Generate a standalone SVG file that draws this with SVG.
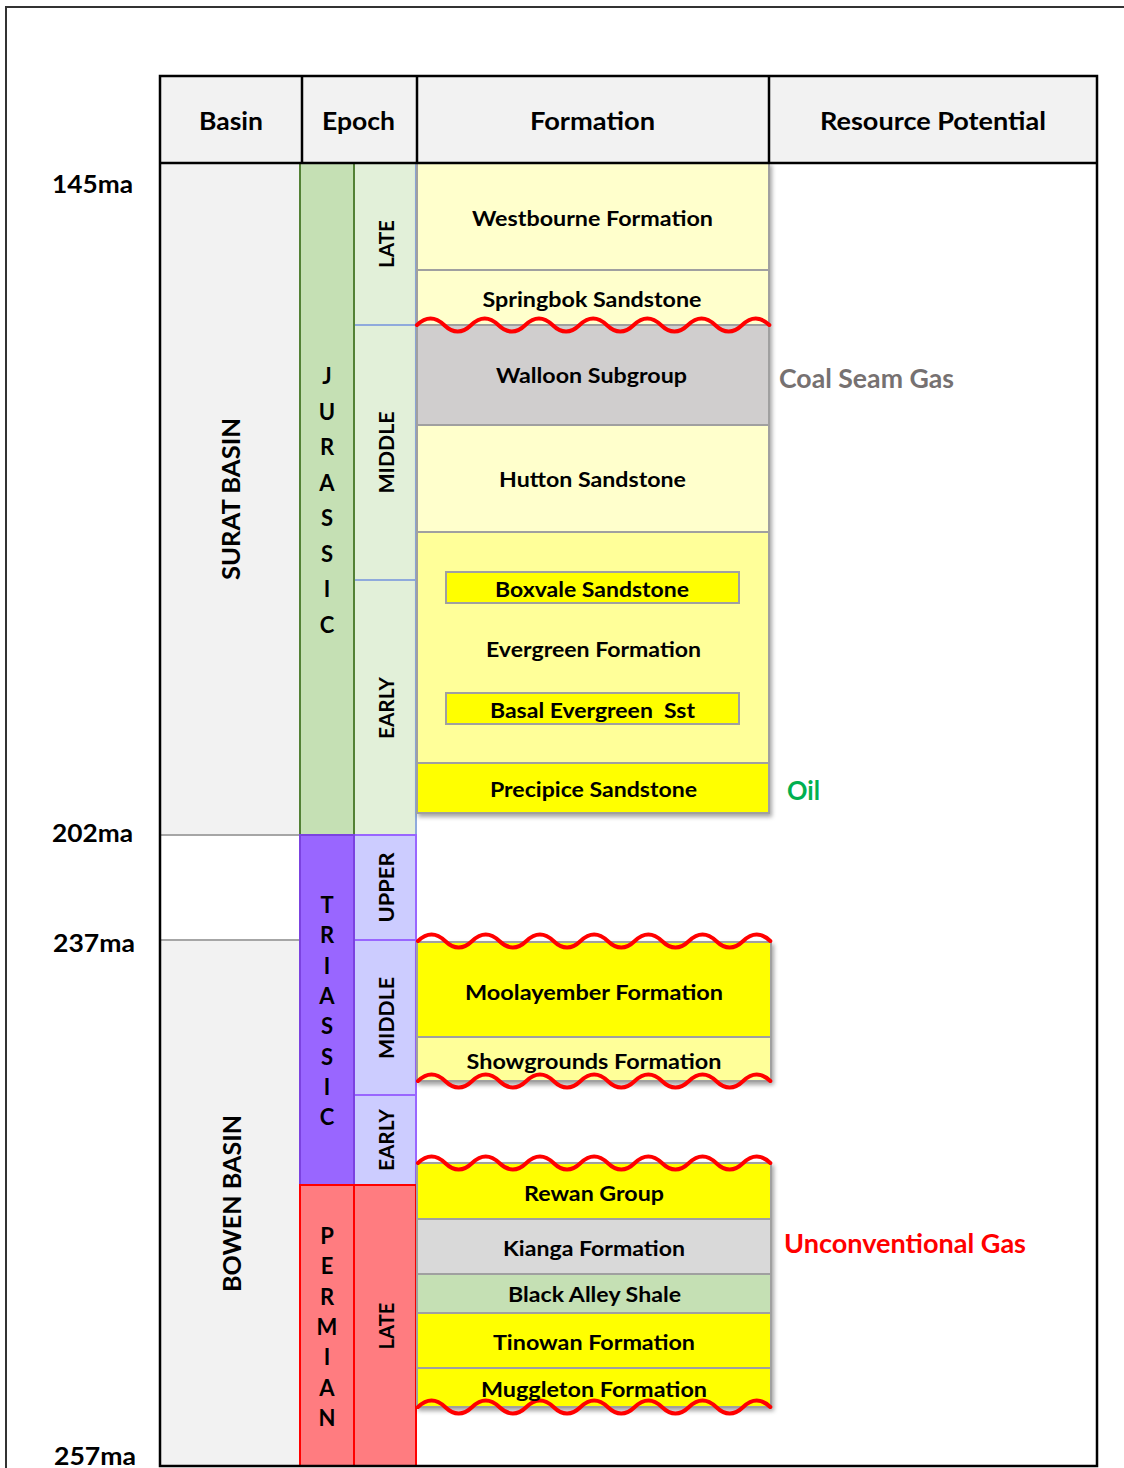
<svg xmlns="http://www.w3.org/2000/svg" xmlns:xlink="http://www.w3.org/1999/xlink" width="1124" height="1468" viewBox="0 0 1124 1468">
<defs>
<style>
.t{font-family:Lato,"Open Sans","Liberation Sans",sans-serif;font-weight:700;fill:#000}
.h{font-size:25.5px;text-anchor:middle}
.ma{font-size:25.5px}
.f{font-size:21.5px;text-anchor:middle}
.e{font-size:21.5px;text-anchor:middle}
.p{font-size:22px;text-anchor:middle}
.r{font-size:26.5px}
.fm{stroke:#a0a0a0;stroke-width:2}
.wave{fill:none;stroke:#ff0000;stroke-width:4;stroke-linecap:round}
</style>
<filter id="sh" x="-5%" y="-10%" width="115%" height="130%">
<feDropShadow dx="2" dy="3" stdDeviation="2" flood-color="#000" flood-opacity="0.35"/>
</filter>
<path id="wv" d="M0,0 q13.55,-13 27.1,0 t27.1,0 t27.1,0 t27.1,0 t27.1,0 t27.1,0 t27.1,0 t27.1,0 t27.1,0 t27.1,0 t27.1,0 t27.1,0 t27.1,0"/>
</defs>
<rect width="1124" height="1468" fill="#fff"/>
<path d="M6,1468 V7 H1124" fill="none" stroke="#333" stroke-width="2"/>

<g id="table">
<rect x="160" y="76" width="937" height="87" fill="#f2f2f2"/>
<rect x="160" y="163" width="140" height="672" fill="#f2f2f2"/>
<rect x="160" y="940" width="140" height="526" fill="#f2f2f2"/>
<line x1="160" y1="835" x2="300" y2="835" stroke="#a6a6a6" stroke-width="2"/>
<line x1="160" y1="940" x2="300" y2="940" stroke="#a6a6a6" stroke-width="2"/>
</g>

<g id="jurassic-epochs">
<rect x="354" y="163" width="62" height="672" fill="#e2f0d9" stroke="#8faadc" stroke-width="2"/>
<line x1="354" y1="325" x2="416" y2="325" stroke="#8faadc" stroke-width="2"/>
<line x1="354" y1="580" x2="416" y2="580" stroke="#8faadc" stroke-width="2"/>
</g>
<g id="jurassic"><rect x="300" y="163" width="54" height="672" fill="#c5e0b4" stroke="#538135" stroke-width="2"/></g>
<g id="triassic-upper"><rect x="354" y="835" width="62" height="105" fill="#ccccff" stroke="#9966ff" stroke-width="2"/></g>
<g id="triassic-middle"><rect x="354" y="940" width="62" height="155" fill="#ccccff" stroke="#9966ff" stroke-width="2"/></g>
<g id="triassic-early"><rect x="354" y="1095" width="62" height="90" fill="#ccccff" stroke="#9966ff" stroke-width="2"/></g>
<g id="triassic"><rect x="300" y="835" width="54" height="350" fill="#9966ff" stroke="#7b42e0" stroke-width="2"/></g>
<g id="permian"><rect x="300" y="1185" width="54" height="281" fill="#ff7c80" stroke="#ff0000" stroke-width="2"/></g>
<g id="permian-late"><rect x="354" y="1185" width="62" height="281" fill="#ff7c80" stroke="#ff0000" stroke-width="2"/></g>

<g filter="url(#sh)">
<g id="westbourne"><rect class="fm" x="417" y="163" width="352" height="107" fill="#ffffcc"/></g>
<g id="springbok"><rect class="fm" x="417" y="270" width="352" height="55" fill="#ffffcc"/></g>
<g id="walloon"><rect class="fm" x="417" y="325" width="352" height="100" fill="#d0cece"/></g>
<g id="hutton"><rect class="fm" x="417" y="425" width="352" height="107" fill="#ffffcc"/></g>
<g id="evergreen"><rect class="fm" x="417" y="532" width="352" height="231" fill="#ffff99"/></g>
<g id="boxvale"><rect class="fm" x="446" y="572" width="293" height="31" fill="#ffff00"/></g>
<g id="basal-evergreen"><rect class="fm" x="446" y="693" width="293" height="31" fill="#ffff00"/></g>
<g id="precipice"><rect class="fm" x="417" y="763" width="352" height="50" fill="#ffff00"/></g>
</g>
<g filter="url(#sh)">
<g id="moolayember"><rect class="fm" x="417" y="942" width="354" height="95" fill="#ffff00"/></g>
<g id="showgrounds"><rect class="fm" x="417" y="1037" width="354" height="44" fill="#ffff99"/></g>
</g>
<g filter="url(#sh)">
<g id="rewan"><rect class="fm" x="417" y="1163" width="354" height="56" fill="#ffff00"/></g>
<g id="kianga"><rect class="fm" x="417" y="1219" width="354" height="55" fill="#d9d9d9"/></g>
<g id="black-alley"><rect class="fm" x="417" y="1274" width="354" height="39" fill="#c5e0b4"/></g>
<g id="tinowan"><rect class="fm" x="417" y="1313" width="354" height="55" fill="#ffff00"/></g>
<g id="muggleton"><rect class="fm" x="417" y="1368" width="354" height="39" fill="#ffff00"/></g>
</g>

<g id="table-lines" fill="none" stroke="#000" stroke-width="2.5">
<rect x="160" y="76" width="937" height="1390"/>
<line x1="160" y1="163" x2="1097" y2="163"/>
<line x1="302" y1="76" x2="302" y2="163"/>
<line x1="417" y1="76" x2="417" y2="163"/>
<line x1="769" y1="76" x2="769" y2="163"/>
</g>

<g id="connectors">
<use href="#wv" class="wave" transform="translate(417,325)"/>
<use href="#wv" class="wave" transform="translate(418,941)"/>
<use href="#wv" class="wave" transform="translate(418,1081)"/>
<use href="#wv" class="wave" transform="translate(418,1163)"/>
<use href="#wv" class="wave" transform="translate(418,1407)"/>
</g>

<g id="labels" class="t">
<text class="h" x="231" y="130" textLength="64" lengthAdjust="spacingAndGlyphs">Basin</text>
<text class="h" x="358.5" y="130" textLength="73" lengthAdjust="spacingAndGlyphs">Epoch</text>
<text class="h" x="592.5" y="130" textLength="125" lengthAdjust="spacingAndGlyphs">Formation</text>
<text class="h" x="933" y="130" textLength="226" lengthAdjust="spacingAndGlyphs">Resource Potential</text>

<text class="ma" x="52" y="193" textLength="81" lengthAdjust="spacingAndGlyphs">145ma</text>
<text class="ma" x="52" y="842" textLength="81" lengthAdjust="spacingAndGlyphs">202ma</text>
<text class="ma" x="53" y="952" textLength="82" lengthAdjust="spacingAndGlyphs">237ma</text>
<text class="ma" x="54" y="1465" textLength="82" lengthAdjust="spacingAndGlyphs">257ma</text>

<text class="h" transform="translate(240,499) rotate(-90)" textLength="162" lengthAdjust="spacingAndGlyphs">SURAT BASIN</text>
<text class="h" transform="translate(241,1203.5) rotate(-90)" textLength="177" lengthAdjust="spacingAndGlyphs">BOWEN BASIN</text>

<text class="e" transform="translate(393.5,244) rotate(-90)" textLength="48" lengthAdjust="spacingAndGlyphs">LATE</text>
<text class="e" transform="translate(393.5,452.5) rotate(-90)" textLength="82" lengthAdjust="spacingAndGlyphs">MIDDLE</text>
<text class="e" transform="translate(393.5,708) rotate(-90)" textLength="62" lengthAdjust="spacingAndGlyphs">EARLY</text>
<text class="e" transform="translate(393.5,887.5) rotate(-90)" textLength="70" lengthAdjust="spacingAndGlyphs">UPPER</text>
<text class="e" transform="translate(393.5,1018) rotate(-90)" textLength="82" lengthAdjust="spacingAndGlyphs">MIDDLE</text>
<text class="e" transform="translate(393.5,1140) rotate(-90)" textLength="62" lengthAdjust="spacingAndGlyphs">EARLY</text>
<text class="e" transform="translate(393.5,1326) rotate(-90)" textLength="47" lengthAdjust="spacingAndGlyphs">LATE</text>

<text class="p"><tspan x="327" y="384">J</tspan><tspan x="327" y="419.5">U</tspan><tspan x="327" y="455">R</tspan><tspan x="327" y="490.5">A</tspan><tspan x="327" y="526">S</tspan><tspan x="327" y="561.5">S</tspan><tspan x="327" y="597">I</tspan><tspan x="327" y="632.5">C</tspan></text>
<text class="p"><tspan x="327" y="913">T</tspan><tspan x="327" y="943.3">R</tspan><tspan x="327" y="973.6">I</tspan><tspan x="327" y="1004">A</tspan><tspan x="327" y="1034.3">S</tspan><tspan x="327" y="1064.6">S</tspan><tspan x="327" y="1095">I</tspan><tspan x="327" y="1125.3">C</tspan></text>
<text class="p"><tspan x="327" y="1244">P</tspan><tspan x="327" y="1274.3">E</tspan><tspan x="327" y="1304.6">R</tspan><tspan x="327" y="1335">M</tspan><tspan x="327" y="1365.3">I</tspan><tspan x="327" y="1395.6">A</tspan><tspan x="327" y="1426">N</tspan></text>

<text class="f" x="592.5" y="226" textLength="241" lengthAdjust="spacingAndGlyphs">Westbourne Formation</text>
<text class="f" x="592" y="307" textLength="219" lengthAdjust="spacingAndGlyphs">Springbok Sandstone</text>
<text class="f" x="591.5" y="383" textLength="191" lengthAdjust="spacingAndGlyphs">Walloon Subgroup</text>
<text class="f" x="592.5" y="487" textLength="187" lengthAdjust="spacingAndGlyphs">Hutton Sandstone</text>
<text class="f" x="592" y="597" textLength="194" lengthAdjust="spacingAndGlyphs">Boxvale Sandstone</text>
<text class="f" x="593.5" y="657" textLength="215" lengthAdjust="spacingAndGlyphs">Evergreen Formation</text>
<text class="f" x="592.5" y="718" textLength="205" lengthAdjust="spacingAndGlyphs" xml:space="preserve">Basal Evergreen  Sst</text>
<text class="f" x="593.5" y="797" textLength="207" lengthAdjust="spacingAndGlyphs">Precipice Sandstone</text>
<text class="f" x="594" y="1000" textLength="258" lengthAdjust="spacingAndGlyphs">Moolayember Formation</text>
<text class="f" x="594" y="1069" textLength="255" lengthAdjust="spacingAndGlyphs">Showgrounds Formation</text>
<text class="f" x="594" y="1201" textLength="140" lengthAdjust="spacingAndGlyphs">Rewan Group</text>
<text class="f" x="594" y="1256" textLength="182" lengthAdjust="spacingAndGlyphs">Kianga Formation</text>
<text class="f" x="594.5" y="1302" textLength="173" lengthAdjust="spacingAndGlyphs">Black Alley Shale</text>
<text class="f" x="594" y="1350" textLength="202" lengthAdjust="spacingAndGlyphs">Tinowan Formation</text>
<text class="f" x="594" y="1397" textLength="226" lengthAdjust="spacingAndGlyphs">Muggleton Formation</text>

<text class="r" x="779" y="388" textLength="175" lengthAdjust="spacingAndGlyphs" style="fill:#767171">Coal Seam Gas</text>
<text class="r" x="787" y="800" textLength="33" lengthAdjust="spacingAndGlyphs" style="fill:#00b050">Oil</text>
<text class="r" x="784" y="1253" textLength="242" lengthAdjust="spacingAndGlyphs" style="fill:#ff0000">Unconventional Gas</text>
</g>
</svg>
